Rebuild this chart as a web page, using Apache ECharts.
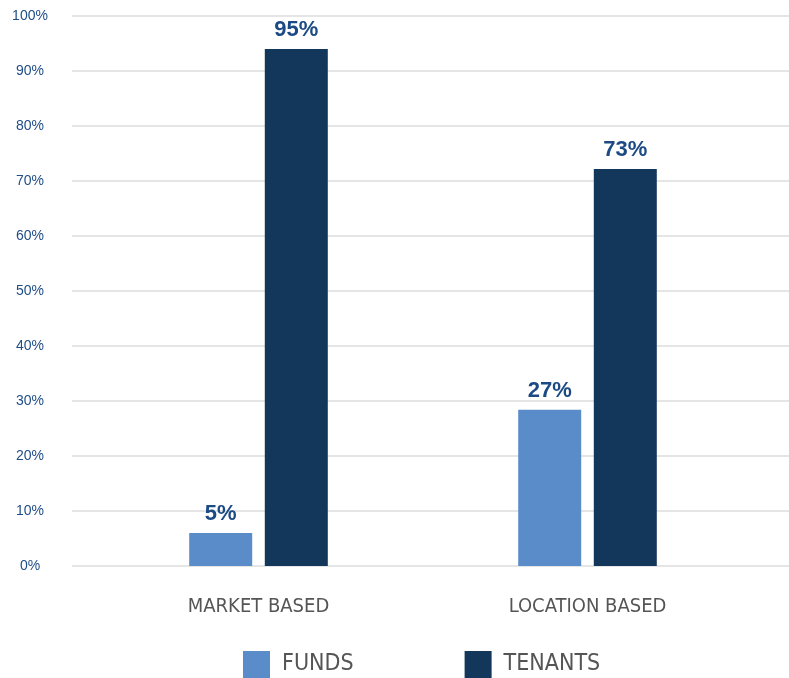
<!DOCTYPE html>
<html>
<head>
<meta charset="utf-8">
<script src="https://cdn.jsdelivr.net/npm/echarts@6/dist/echarts.min.js"></script>
<style>
  html, body { margin: 0; padding: 0; background: #fff; }
  #main { width: 789px; height: 678px; }
</style>
</head>
<body>
<div id="main"></div>
<script>
var categories = ['MARKET BASED', 'LOCATION BASED'];
var fundsValues = [6, 28.4];      // bar heights as drawn
var tenantsValues = [94, 72.2];
var fundsLabels = ['5%', '27%'];  // printed labels
var tenantsLabels = ['95%', '73%'];

var narrow = '"Liberation Sans Narrow", "DejaVu Sans Condensed", "Roboto", sans-serif';

var chart = echarts.init(document.getElementById('main'));  // echarts定义
var option = {
  backgroundColor: '#ffffff',
  animation: false,
  grid: [
    { left: 72, right: 0, top: 16, bottom: 112 },   // gridlines
    { left: 94, right: 37, top: 16, bottom: 112 }   // bars
  ],
  legend: {
    left: 243,
    top: 651,
    padding: 0,
    itemWidth: 27,
    itemHeight: 27,
    itemGap: 111,
    icon: 'rect',
    textStyle: { color: '#555', fontSize: 23, fontFamily: narrow, padding: [0, 0, 0, 7] },
    data: ['FUNDS', 'TENANTS']
  },
  xAxis: [
    { gridIndex: 0, type: 'value', show: false },
    {
      gridIndex: 1,
      type: 'category',
      data: categories,
      axisLine: { show: false },
      axisTick: { show: false },
      axisLabel: { color: '#555', fontSize: 20, fontFamily: narrow, margin: 31 }
    }
  ],
  yAxis: [
    {
      gridIndex: 0,
      type: 'value',
      min: 0, max: 100, interval: 10,
      axisLine: { show: false },
      axisTick: { show: false },
      axisLabel: {
        formatter: '{value}%',
        color: '#1f4d87',
        fontSize: 14,
        fontFamily: 'Liberation Sans, Arial, sans-serif',
        align: 'center',
        margin: 42
      },
      splitLine: { lineStyle: { color: '#dcdcdc', width: 1.5 } }
    },
    {
      gridIndex: 1,
      type: 'value',
      min: 0, max: 100,
      show: false,
      splitLine: { show: false }
    }
  ],
  series: [
    {
      name: 'FUNDS',
      type: 'bar',
      xAxisIndex: 1, yAxisIndex: 1,
      barWidth: 63,
      barGap: '20%',
      itemStyle: { color: '#5a8cca' },
      data: fundsValues,
      label: {
        show: true, position: 'top', distance: 8,
        color: '#1b4a85', fontSize: 22, fontWeight: 'bold',
        fontFamily: 'Liberation Sans, Arial, sans-serif',
        formatter: function (p) { return fundsLabels[p.dataIndex]; }
      }
    },
    {
      name: 'TENANTS',
      type: 'bar',
      xAxisIndex: 1, yAxisIndex: 1,
      barWidth: 63,
      barGap: '20%',
      itemStyle: { color: '#13365b' },
      data: tenantsValues,
      label: {
        show: true, position: 'top', distance: 8,
        color: '#1b4a85', fontSize: 22, fontWeight: 'bold',
        fontFamily: 'Liberation Sans, Arial, sans-serif',
        formatter: function (p) { return tenantsLabels[p.dataIndex]; }
      }
    }
  ]
};
chart.setOption(option);
</script>
</body>
</html>
